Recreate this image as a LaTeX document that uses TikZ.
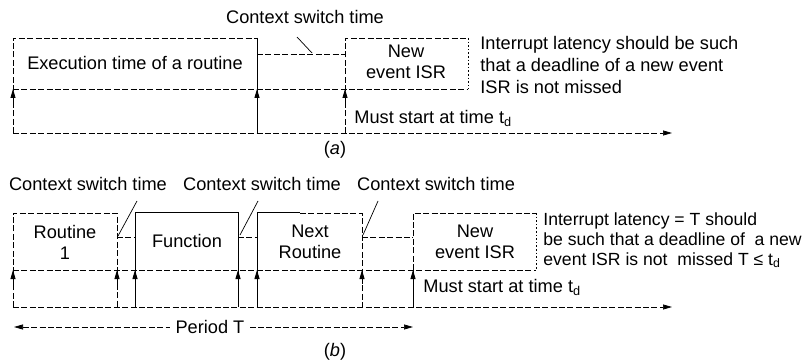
\documentclass[tikz,border=0pt]{standalone}
\usepackage{fontspec}
\setmainfont{Liberation Sans}
\usetikzlibrary{arrows.meta, calc}
\tikzset{
  frame/.style={line width=0.35pt, dash pattern=on 3pt off 1.2pt},
  dotframe/.style={line width=0.35pt, dash pattern=on 0.8pt off 1pt},
  edge/.style={line width=0.5pt},
  up/.style={-{Triangle[length=4.5pt,width=2.5pt]}},
  ptr/.style={line width=0.35pt},
  lbl/.style={font=\fontsize{9.1}{10.5}\selectfont, inner sep=0pt},
  box/.style={lbl, align=center},
  note/.style={lbl, font=\fontsize{8.8}{10}\selectfont, align=left, anchor=north west},
  subcap/.style={lbl}
}
\begin{document}
\begin{tikzpicture}[x=0.5pt, y=-0.5pt]
\useasboundingbox (0,0) rectangle (808,363);
% (a) time points
\coordinate (a0t) at (13,38);  \coordinate (a0m) at (13,89);  \coordinate (a0b) at (13,133);
\coordinate (a1t) at (257,38); \coordinate (a1c) at (257,54); \coordinate (a1m) at (257,89); \coordinate (a1b) at (257,133);
\coordinate (a2t) at (345,38); \coordinate (a2c) at (345,54); \coordinate (a2m) at (345,89); \coordinate (a2b) at (345,133);
\coordinate (a3t) at (468,38); \coordinate (a3m) at (468,89);
\coordinate (aend) at (672,133);
% (a) boxes and levels
\draw[frame] (a0b) -- (a0t) -- (a1t);
\draw[edge] (a1t) -- (a1b);
\draw[frame] (a1c) -- (a2c);
\draw[frame] (a2b) -- (a2t) -- (a3t);
\draw[dotframe] (a3t) -- (a3m);
\draw[frame] (a0m) -- (a3m);
\draw[frame, up] (a0b) -- (aend);
\draw[up] ($(a0m)+(0,14)$) -- (a0m);
\draw[up, edge] ($(a1m)+(0,14)$) -- (a1m);
\draw[up] ($(a2m)+(0,14)$) -- (a2m);
% (a) texts
\node[lbl] (exec) at (135,63) {Execution time of a routine};
\node[box] (isra) at (406,62) {New\\event ISR};
\node[lbl] (csa) at (305,17) {Context switch time};
\draw[ptr] (297,37) -- (312,53);
\node[lbl, anchor=west] (musta) at (354,118) {Must start at time t\textsubscript{d}};
\node[note, font=\fontsize{9.1}{11}\selectfont] (lata) at (480,36) {Interrupt latency should be such\\that a deadline of a new event\\ISR is not missed};
\node[subcap] (capa) at (335,150) {(\textit{a})};
% (b) time points
\coordinate (b0t) at (13,213);  \coordinate (b0m) at (13,270);  \coordinate (b0b) at (13,307);
\coordinate (b1t) at (117,213); \coordinate (b1c) at (117,237); \coordinate (b1m) at (117,270); \coordinate (b1b) at (117,307);
\coordinate (b2t) at (135,213); \coordinate (b2c) at (135,237); \coordinate (b2m) at (135,270); \coordinate (b2b) at (135,307);
\coordinate (b3t) at (238,213); \coordinate (b3c) at (238,237); \coordinate (b3m) at (238,270); \coordinate (b3b) at (238,307);
\coordinate (b4t) at (257,213); \coordinate (b4c) at (257,237); \coordinate (b4m) at (257,270); \coordinate (b4b) at (257,307);
\coordinate (b5t) at (362,213); \coordinate (b5c) at (362,237); \coordinate (b5m) at (362,270); \coordinate (b5b) at (362,307);
\coordinate (b6t) at (413,213); \coordinate (b6c) at (413,237); \coordinate (b6m) at (413,270); \coordinate (b6b) at (413,307);
\coordinate (b7t) at (536,213); \coordinate (b7m) at (536,270);
\coordinate (bend) at (672,307);
% (b) boxes and levels
\draw[frame] (b0b) -- (b0t) -- (b1t) -- (b1b);
\draw[frame] (b1c) -- (b2c);
\draw[edge] (b2b) -- (b2t) -- (b3t) -- (b3b);
\draw[frame] (b3c) -- (b4c);
\draw[edge] (b4b) -- (b4t) -- (300,213);
\draw[frame] (300,213) -- (b5t) -- (b5b);
\draw[frame] (b5c) -- (b6c);
\draw[frame] (b6m) -- (b6t) -- (b7t);
\draw[dotframe] (b7t) -- (b7m);
\draw[edge] (b6m) -- (b6b);
\draw[frame] (b0m) -- (b7m);
\draw[frame, up] (b0b) -- (bend);
\foreach \p in {b0m,b1m,b5m,b6m}
  \draw[up] ($(\p)+(0,14)$) -- (\p);
\foreach \p in {b2m,b3m,b4m}
  \draw[up, edge] ($(\p)+(0,14)$) -- (\p);
% (b) texts
\node[box] (r1) at (65,242) {Routine\\1};
\node[box] (fn) at (187,241) {Function};
\node[box] (nr) at (310,242) {Next\\Routine};
\node[box] (isrb) at (475,242) {New\\event ISR};
\node[lbl] (cs1) at (88,184) {Context switch time};
\node[lbl] (cs2) at (262,184) {Context switch time};
\node[lbl] (cs3) at (436,184) {Context switch time};
\draw[ptr] (137,201) -- (118,236);
\draw[ptr] (258,201) -- (240,235);
\draw[ptr] (378,201) -- (363,235);
\node[lbl, anchor=west] (mustb) at (423,287) {Must start at time t\textsubscript{d}};
\node[note] (latb) at (543,212) {Interrupt latency = T should\\be such that a deadline of\ \ a new\\event ISR is not\ \ missed T ≤ t\textsubscript{d}};
\coordinate (pl) at (14,327); \coordinate (pr) at (413,327);
\draw[frame, {Triangle[length=4.5pt,width=2.5pt]}-{Triangle[length=4.5pt,width=2.5pt]}] (pl) -- (pr);
\node[lbl, fill=white, inner xsep=3pt] (per) at (210,327) {Period T};
\node[subcap] (capb) at (335,352) {(\textit{b})};
\end{tikzpicture}
\end{document}
